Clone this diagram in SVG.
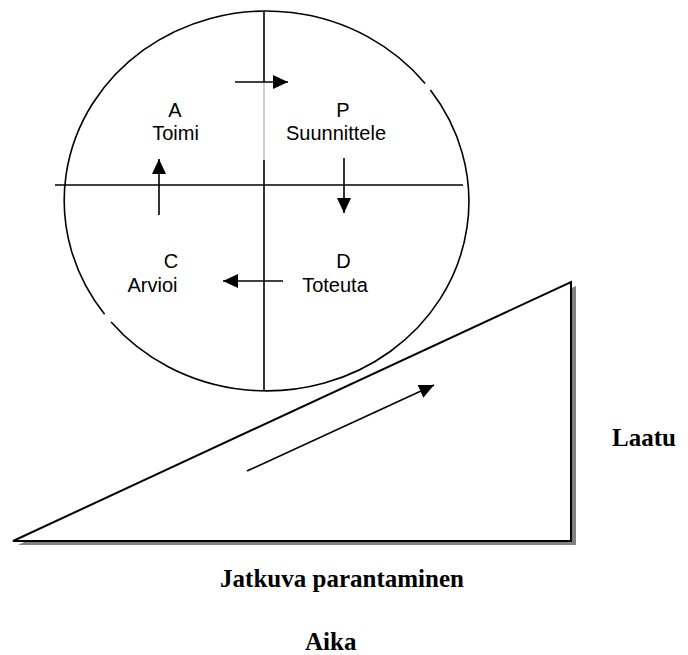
<svg xmlns="http://www.w3.org/2000/svg" width="688" height="655" viewBox="0 0 688 655">
<style>
.ln{stroke:#000;stroke-width:1.6;fill:none}
.lab{font-family:"Liberation Sans",Arial,sans-serif;font-size:20px;fill:#000}
.big{font-family:"Liberation Serif","Times New Roman",serif;font-size:25px;font-weight:bold;fill:#000}
</style>
<defs>
<marker id="ah" viewBox="0 0 15 14" refX="15" refY="7" markerWidth="15" markerHeight="14" markerUnits="userSpaceOnUse" orient="auto"><path d="M0,0 L15,7 L0,14 z" fill="#000"/></marker>
</defs>
<rect width="688" height="655" fill="#fff"/>
<g id="cycle">
<path class="ln" d="M430.4,90.1 A202,189.5 0 0 1 111.1,322 M104.6,314.2 A202,189.5 0 0 1 425.1,83.5"/>
<line class="ln" x1="55" y1="185" x2="463" y2="185"/>
<line class="ln" x1="264" y1="12" x2="264" y2="82"/>
<line x1="264" y1="82" x2="264" y2="160" stroke="#888" stroke-width="0.8"/>
<line class="ln" x1="264" y1="160" x2="264" y2="391"/>
</g>
<g id="triangle">
<polygon points="18,545 576,286 576,545" fill="#808080"/>
<polygon points="13,541 571,282 571,541" fill="#fff" stroke="#000" stroke-width="2"/>
</g>
<g id="connectors">
<line class="ln" x1="235" y1="82" x2="288" y2="82" marker-end="url(#ah)"/>
<line class="ln" x1="344" y1="158" x2="344" y2="213" marker-end="url(#ah)"/>
<line class="ln" x1="283" y1="281" x2="223" y2="281" marker-end="url(#ah)"/>
<line class="ln" x1="159" y1="215" x2="159" y2="159" marker-end="url(#ah)"/>
<line class="ln" x1="247" y1="471" x2="434" y2="385" marker-end="url(#ah)"/>
</g>
<g id="node-A">
<text class="lab" x="175" y="117" text-anchor="middle">A</text>
<text class="lab" x="175.5" y="140" text-anchor="middle">Toimi</text>
</g>
<g id="node-P">
<text class="lab" x="343" y="117" text-anchor="middle">P</text>
<text class="lab" x="336" y="140" text-anchor="middle">Suunnittele</text>
</g>
<g id="node-C">
<text class="lab" x="171" y="268" text-anchor="middle">C</text>
<text class="lab" x="152.5" y="292" text-anchor="middle">Arvioi</text>
</g>
<g id="node-D">
<text class="lab" x="343.5" y="268" text-anchor="middle">D</text>
<text class="lab" x="335" y="292" text-anchor="middle">Toteuta</text>
</g>
<g id="labels">
<text class="big" x="612" y="446">Laatu</text>
<text class="big" x="342" y="587" text-anchor="middle">Jatkuva parantaminen</text>
<text class="big" x="305" y="650">Aika</text>
</g>
</svg>
